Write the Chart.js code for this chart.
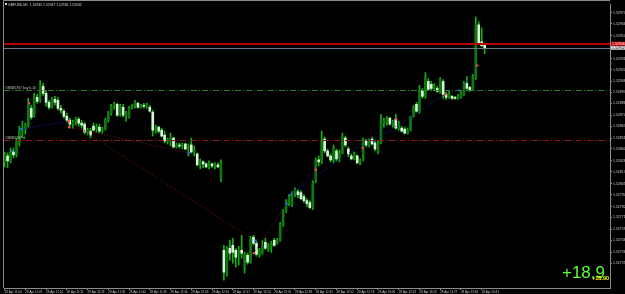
<!DOCTYPE html>
<html>
<head>
<meta charset="utf-8">
<script src="https://cdn.jsdelivr.net/npm/chart.js@4.4.1/dist/chart.umd.min.js"></script>
<style>
  html, body { margin: 0; padding: 0; background: #000; }
  #wrap { width: 625px; height: 294px; }
</style>
</head>
<body>
<div id="wrap"><canvas id="chart" width="625" height="294"></canvas></div>
<script>
// GBPUSD M1 candles

const titleText = 'GBPUSD,M1  1.52945 1.52947 1.52936 1.52942';

const timeLabels = [
    '28 Apr 11:00', '28 Apr 11:07', '28 Apr 11:14', '28 Apr 11:21', '28 Apr 11:28', '28 Apr 11:35',
    '28 Apr 11:42', '28 Apr 11:49', '28 Apr 11:56', '28 Apr 12:03', '28 Apr 12:10', '28 Apr 12:17',
    '28 Apr 12:24', '28 Apr 12:31', '28 Apr 12:38', '28 Apr 12:45', '28 Apr 12:52', '28 Apr 12:59',
    '28 Apr 13:06', '28 Apr 13:13', '28 Apr 13:20', '28 Apr 13:27', '28 Apr 13:34', '28 Apr 13:41'
];

const priceTicks = [
    1.52977, 1.52966, 1.52954, 1.52931, 1.52920, 1.52908, 1.52897, 1.52886, 1.52874, 1.52863, 1.52851,
    1.52840, 1.52828, 1.52817, 1.52805, 1.52794, 1.52782, 1.52771, 1.52759, 1.52748, 1.52736, 1.52725
];

const open = [
    1.52826, 1.52833, 1.52828, 1.52837, 1.52834, 1.52847, 1.52858, 1.52860, 1.52864, 1.52881,
    1.52874, 1.52892, 1.52889, 1.52903, 1.52896, 1.52887, 1.52882, 1.52890, 1.52889, 1.52881,
    1.52878, 1.52873, 1.52869, 1.52865, 1.52867, 1.52870, 1.52866, 1.52865, 1.52857, 1.52858,
    1.52863, 1.52860, 1.52862, 1.52858, 1.52860, 1.52869, 1.52876, 1.52883, 1.52885, 1.52875,
    1.52882, 1.52874, 1.52872, 1.52882, 1.52884, 1.52886, 1.52882, 1.52884, 1.52883, 1.52882,
    1.52877, 1.52859, 1.52862, 1.52859, 1.52854, 1.52848, 1.52848, 1.52851, 1.52842, 1.52844,
    1.52843, 1.52845, 1.52840, 1.52844, 1.52837, 1.52835, 1.52824, 1.52827, 1.52825, 1.52822,
    1.52825, 1.52823, 1.52824, 1.52812, 1.52738, 1.52715, 1.52740, 1.52743, 1.52738, 1.52733,
    1.52738, 1.52722, 1.52733, 1.52726, 1.52751, 1.52745, 1.52733, 1.52736, 1.52746, 1.52740,
    1.52742, 1.52748, 1.52745, 1.52748, 1.52763, 1.52778, 1.52786, 1.52784, 1.52795, 1.52797,
    1.52796, 1.52792, 1.52788, 1.52786, 1.52781, 1.52808, 1.52829, 1.52828, 1.52850, 1.52838,
    1.52833, 1.52828, 1.52838, 1.52831, 1.52836, 1.52851, 1.52840, 1.52833, 1.52831, 1.52833,
    1.52826, 1.52830, 1.52848, 1.52843, 1.52850, 1.52846, 1.52836, 1.52846, 1.52866, 1.52866,
    1.52871, 1.52865, 1.52870, 1.52861, 1.52861, 1.52860, 1.52856, 1.52860, 1.52873, 1.52885,
    1.52878, 1.52899, 1.52893, 1.52908, 1.52905, 1.52901, 1.52901, 1.52897, 1.52908, 1.52895,
    1.52892, 1.52893, 1.52892, 1.52891, 1.52892, 1.52895, 1.52906, 1.52902, 1.52900, 1.52911,
    1.52965, 1.52948, 1.52945
];

const high = [
    1.52837, 1.52836, 1.52841, 1.52841, 1.52851, 1.52863, 1.52868, 1.52866, 1.52891, 1.52884,
    1.52896, 1.52895, 1.52909, 1.52906, 1.52899, 1.52889, 1.52892, 1.52893, 1.52892, 1.52884,
    1.52880, 1.52876, 1.52871, 1.52869, 1.52872, 1.52872, 1.52869, 1.52867, 1.52861, 1.52861,
    1.52866, 1.52865, 1.52865, 1.52862, 1.52871, 1.52878, 1.52885, 1.52887, 1.52886, 1.52885,
    1.52885, 1.52878, 1.52883, 1.52885, 1.52889, 1.52887, 1.52885, 1.52886, 1.52886, 1.52884,
    1.52879, 1.52864, 1.52863, 1.52861, 1.52858, 1.52851, 1.52856, 1.52852, 1.52846, 1.52846,
    1.52846, 1.52846, 1.52845, 1.52851, 1.52843, 1.52836, 1.52830, 1.52828, 1.52826, 1.52828,
    1.52826, 1.52826, 1.52826, 1.52829, 1.52743, 1.52742, 1.52748, 1.52750, 1.52740, 1.52742,
    1.52753, 1.52736, 1.52735, 1.52752, 1.52753, 1.52747, 1.52740, 1.52748, 1.52750, 1.52745,
    1.52747, 1.52750, 1.52750, 1.52766, 1.52779, 1.52789, 1.52794, 1.52797, 1.52801, 1.52799,
    1.52798, 1.52794, 1.52790, 1.52788, 1.52808, 1.52831, 1.52833, 1.52858, 1.52852, 1.52840,
    1.52835, 1.52844, 1.52840, 1.52839, 1.52856, 1.52853, 1.52842, 1.52835, 1.52837, 1.52834,
    1.52830, 1.52851, 1.52850, 1.52850, 1.52852, 1.52848, 1.52848, 1.52875, 1.52871, 1.52873,
    1.52872, 1.52869, 1.52875, 1.52868, 1.52863, 1.52862, 1.52861, 1.52873, 1.52884, 1.52887,
    1.52904, 1.52901, 1.52917, 1.52911, 1.52908, 1.52906, 1.52903, 1.52912, 1.52910, 1.52897,
    1.52899, 1.52894, 1.52893, 1.52895, 1.52899, 1.52908, 1.52913, 1.52903, 1.52915, 1.52973,
    1.52968, 1.52962, 1.52947
];

const low = [
    1.52822, 1.52821, 1.52826, 1.52831, 1.52832, 1.52843, 1.52851, 1.52855, 1.52862, 1.52870,
    1.52872, 1.52886, 1.52887, 1.52894, 1.52883, 1.52880, 1.52881, 1.52884, 1.52879, 1.52876,
    1.52871, 1.52867, 1.52861, 1.52861, 1.52864, 1.52863, 1.52861, 1.52855, 1.52854, 1.52851,
    1.52858, 1.52857, 1.52856, 1.52856, 1.52859, 1.52867, 1.52874, 1.52880, 1.52873, 1.52873,
    1.52872, 1.52868, 1.52871, 1.52880, 1.52881, 1.52881, 1.52881, 1.52881, 1.52881, 1.52877,
    1.52853, 1.52856, 1.52856, 1.52852, 1.52846, 1.52845, 1.52843, 1.52841, 1.52841, 1.52841,
    1.52840, 1.52839, 1.52833, 1.52836, 1.52833, 1.52823, 1.52820, 1.52821, 1.52821, 1.52820,
    1.52821, 1.52820, 1.52821, 1.52807, 1.52708, 1.52712, 1.52728, 1.52725, 1.52721, 1.52723,
    1.52730, 1.52715, 1.52724, 1.52725, 1.52743, 1.52732, 1.52731, 1.52734, 1.52739, 1.52737,
    1.52736, 1.52742, 1.52744, 1.52747, 1.52762, 1.52776, 1.52783, 1.52782, 1.52792, 1.52791,
    1.52789, 1.52786, 1.52782, 1.52780, 1.52779, 1.52806, 1.52823, 1.52825, 1.52836, 1.52832,
    1.52827, 1.52826, 1.52828, 1.52827, 1.52835, 1.52842, 1.52832, 1.52829, 1.52829, 1.52825,
    1.52824, 1.52828, 1.52842, 1.52842, 1.52844, 1.52838, 1.52835, 1.52845, 1.52862, 1.52864,
    1.52864, 1.52862, 1.52860, 1.52859, 1.52857, 1.52855, 1.52855, 1.52858, 1.52872, 1.52877,
    1.52876, 1.52891, 1.52891, 1.52899, 1.52899, 1.52899, 1.52897, 1.52896, 1.52891, 1.52890,
    1.52891, 1.52890, 1.52890, 1.52890, 1.52891, 1.52894, 1.52900, 1.52898, 1.52899, 1.52910,
    1.52946, 1.52943, 1.52936
];

const close = [
    1.52833, 1.52828, 1.52837, 1.52834, 1.52847, 1.52858, 1.52860, 1.52864, 1.52884, 1.52872,
    1.52892, 1.52888, 1.52904, 1.52896, 1.52887, 1.52882, 1.52890, 1.52887, 1.52881, 1.52879,
    1.52873, 1.52869, 1.52865, 1.52867, 1.52870, 1.52866, 1.52864, 1.52857, 1.52859, 1.52854,
    1.52859, 1.52862, 1.52858, 1.52860, 1.52869, 1.52876, 1.52883, 1.52885, 1.52874, 1.52882,
    1.52874, 1.52876, 1.52882, 1.52884, 1.52887, 1.52882, 1.52884, 1.52883, 1.52884, 1.52878,
    1.52859, 1.52862, 1.52858, 1.52853, 1.52848, 1.52849, 1.52851, 1.52842, 1.52844, 1.52843,
    1.52844, 1.52840, 1.52842, 1.52837, 1.52839, 1.52824, 1.52827, 1.52825, 1.52822, 1.52825,
    1.52823, 1.52824, 1.52822, 1.52827, 1.52716, 1.52740, 1.52735, 1.52736, 1.52731, 1.52738,
    1.52735, 1.52734, 1.52726, 1.52750, 1.52745, 1.52734, 1.52738, 1.52742, 1.52740, 1.52743,
    1.52745, 1.52743, 1.52748, 1.52764, 1.52777, 1.52786, 1.52791, 1.52795, 1.52799, 1.52794,
    1.52790, 1.52788, 1.52785, 1.52781, 1.52806, 1.52829, 1.52827, 1.52848, 1.52838, 1.52833,
    1.52829, 1.52842, 1.52830, 1.52836, 1.52852, 1.52844, 1.52835, 1.52830, 1.52835, 1.52826,
    1.52828, 1.52849, 1.52844, 1.52848, 1.52845, 1.52840, 1.52846, 1.52866, 1.52868, 1.52871,
    1.52865, 1.52867, 1.52861, 1.52864, 1.52858, 1.52856, 1.52859, 1.52871, 1.52882, 1.52878,
    1.52899, 1.52893, 1.52913, 1.52900, 1.52901, 1.52904, 1.52898, 1.52910, 1.52895, 1.52892,
    1.52896, 1.52891, 1.52891, 1.52893, 1.52897, 1.52906, 1.52901, 1.52899, 1.52913, 1.52964,
    1.52947, 1.52944, 1.52942
];

// trade arrows [bar, price]
const buyMarks = [[2.5, 1.52838], [5.6, 1.52860], [62.2, 1.52836], [84.7, 1.52748], [95.2, 1.52785], [96.5, 1.52794], [153.5, 1.52899]];
const sellMarks = [[8.3, 1.52886], [21.7, 1.52868], [21.7, 1.52862], [84.1, 1.52735], [105, 1.52819], [120.8, 1.52841], [132.2, 1.52870], [148.8, 1.52895], [159.5, 1.52924]];

// trade lines [bar1, price1, bar2, price2]
const sellLines = [[21.7, 1.52868, 82.7, 1.52751], [21.7, 1.52862, 62.2, 1.52836], [84.1, 1.52735, 95.2, 1.52785]];
const buyLines = [[5.6, 1.52860, 8.3, 1.52886], [5.6, 1.52860, 21.7, 1.52868], [96.5, 1.52794, 105, 1.52819], [96.5, 1.52794, 132.2, 1.52870], [120.8, 1.52841, 148.8, 1.52895], [153.5, 1.52899, 159.5, 1.52924]];

const askPrice = 1.52946;
const bidPrice = 1.52942;
const orderPrice = 1.52899;
const stopPrice = 1.52849;
const orderLabel = '#38365767 buy 0.10';
const stopLabel = '#38365767 sl';
const profitText = '+18.9';
const profitSmall = '+18.90';

const FONT = '"Liberation Sans", Arial, sans-serif';
const axisColor = '#8c8c8c';
const textColor = '#c8c8c8';

function tradeLine(seg, color) {
    return {
        type: 'line',
        data: [{ x: seg[0], y: seg[1] }, { x: seg[2], y: seg[3] }],
        borderColor: color,
        borderWidth: 1,
        borderDash: [1, 2],
        pointRadius: 0,
        fill: false,
        order: 1
    };
}

// Overlay: level lines, labels and frame
const overlay = {
    id: 'overlay',
    afterDatasetsDraw(chart) {
        const { ctx, chartArea: a, scales: { y } } = chart;
        ctx.save();
        const hline = (price, color, width, dash) => {
            const py = Math.round(y.getPixelForValue(price)) + (width % 2 ? 0.5 : 0);
            ctx.strokeStyle = color;
            ctx.lineWidth = width;
            ctx.setLineDash(dash);
            ctx.beginPath();
            ctx.moveTo(a.left, py);
            ctx.lineTo(a.right, py);
            ctx.stroke();
        };
        hline(orderPrice, '#2c7a2c', 1, [6, 2, 1, 2]);
        hline(stopPrice, '#8a1c1c', 1, [6, 2, 1, 2]);
        hline(bidPrice, '#6b7b8b', 1, []);
        hline(askPrice, '#b30000', 2, []);
        ctx.restore();
    },
    afterDraw(chart) {
        const { ctx, chartArea: a, scales: { y } } = chart;
        ctx.save();

        // frame
        ctx.strokeStyle = axisColor;
        ctx.lineWidth = 1;
        ctx.beginPath();
        ctx.moveTo(a.left - 0.5, a.bottom);
        ctx.lineTo(a.left - 0.5, 0.5);
        ctx.lineTo(a.right, 0.5);
        ctx.stroke();

        // title
        ctx.fillStyle = '#d8d8d8';
        ctx.font = '3.4px ' + FONT;
        ctx.textBaseline = 'top';
        ctx.textAlign = 'left';
        ctx.fillText(titleText, a.left + 4, 3);
        ctx.fillRect(a.left + 1, 3, 2, 2);

        // order labels
        ctx.fillStyle = textColor;
        ctx.textBaseline = 'bottom';
        ctx.fillText(orderLabel, a.left + 1, y.getPixelForValue(orderPrice) - 0.5);
        ctx.fillText(stopLabel, a.left + 1, y.getPixelForValue(stopPrice) - 0.5);

        // price boxes on the axis
        const box = (price, bg, fg) => {
            const py = y.getPixelForValue(price);
            ctx.fillStyle = bg;
            ctx.fillRect(a.right + 1, py - 2, 14, 4);
            ctx.fillStyle = fg;
            ctx.font = '3.5px ' + FONT;
            ctx.textBaseline = 'middle';
            ctx.fillText(price.toFixed(5), a.right + 2, py);
        };
        box(bidPrice, '#e6e6e6', '#000');
        box(askPrice, '#d00000', '#fff');

        // profit
        ctx.fillStyle = '#5cff38';
        ctx.font = '17px ' + FONT;
        ctx.textAlign = 'right';
        ctx.textBaseline = 'alphabetic';
        ctx.fillText(profitText, a.right - 5, a.bottom - 10);
        ctx.fillStyle = '#ffff00';
        ctx.font = 'bold 5.5px ' + FONT;
        ctx.fillText(profitSmall, a.right - 1, a.bottom - 8);

        ctx.restore();
    }
};

const bars = open.map((_, i) => i);

new Chart(document.getElementById('chart'), {
    type: 'bar',
    data: {
        datasets: [
            {
                type: 'line',
                data: buyMarks.map(m => ({ x: m[0], y: m[1] })),
                showLine: false,
                pointStyle: 'rect',
                pointRadius: 1.5,
                pointBorderWidth: 0,
                pointBackgroundColor: '#3a5cff',
                order: 0
            },
            {
                type: 'line',
                data: sellMarks.map(m => ({ x: m[0], y: m[1] })),
                showLine: false,
                pointStyle: 'rect',
                pointRadius: 1.5,
                pointBorderWidth: 0,
                pointBackgroundColor: '#ff4a4a',
                order: 0
            },
            ...sellLines.map(s => tradeLine(s, '#8b1010')),
            ...buyLines.map(s => tradeLine(s, '#1a1acc')),
            {
                label: 'body',
                data: bars.map(i => ({ x: i, y: [open[i], close[i]] })),
                backgroundColor: ctx => close[ctx.dataIndex] < open[ctx.dataIndex] ? '#d4f7d4' : '#0e7a0e',
                barThickness: 2,
                minBarLength: 1,
                grouped: false,
                order: 2
            },
            {
                label: 'wick',
                data: bars.map(i => ({ x: i, y: [low[i], high[i]] })),
                backgroundColor: '#14b014',
                barThickness: 1,
                minBarLength: 1,
                grouped: false,
                order: 3
            }
        ]
    },
    options: {
        responsive: false,
        devicePixelRatio: 1,
        animation: false,
        layout: { padding: { left: 3, top: 0, right: 0, bottom: 0 } },
        plugins: { legend: { display: false }, tooltip: { enabled: false } },
        scales: {
            x: {
                type: 'linear',
                position: 'bottom',
                min: -0.2,
                max: 204.3,
                offset: false,
                afterBuildTicks: s => { s.ticks = timeLabels.map((_, k) => ({ value: k * 7 })); },
                afterFit: s => { s.height = 6; },
                ticks: {
                    autoSkip: false,
                    maxRotation: 0,
                    align: 'start',
                    padding: 0,
                    color: textColor,
                    font: { size: 3, family: FONT },
                    callback: (v, k) => timeLabels[k]
                },
                grid: { drawOnChartArea: false, tickLength: 2, color: axisColor, offset: false },
                border: { display: true, color: axisColor }
            },
            y: {
                position: 'right',
                min: 1.52700,
                max: 1.52986,
                afterBuildTicks: s => { s.ticks = priceTicks.map(v => ({ value: v })); },
                afterFit: s => { s.width = 15; },
                ticks: {
                    autoSkip: false,
                    padding: 1,
                    color: textColor,
                    font: { size: 3.5, family: FONT },
                    callback: v => v.toFixed(5)
                },
                grid: { drawOnChartArea: false, tickLength: 2, color: axisColor },
                border: { display: true, color: axisColor }
            }
        }
    },
    plugins: [overlay]
});
</script>
</body>
</html>
